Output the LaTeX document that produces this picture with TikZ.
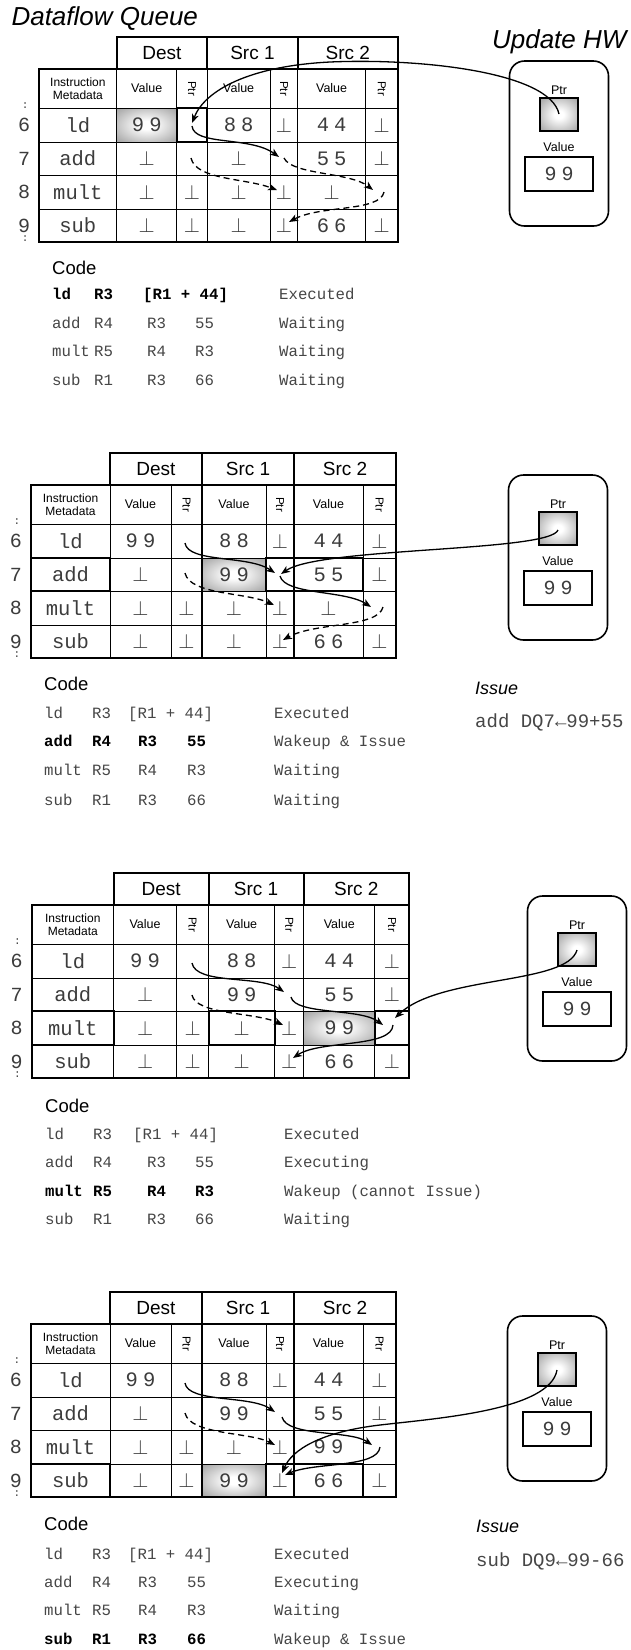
\documentclass[tikz,border=0pt]{standalone}
\usepackage{fontspec}
\setmainfont{Liberation Sans}
\newfontfamily\mono{Liberation Mono}
\newfontfamily\monosp{Liberation Mono}[LetterSpace=25]
\usetikzlibrary{arrows.meta}
\definecolor{txt}{RGB}{60,60,60}
\definecolor{codec}{RGB}{70,70,70}
\pgfdeclareradialshading{glow}{\pgfpointorigin}{color(0bp)=(white); color(6bp)=(white); color(30bp)=(black!30); color(50bp)=(black!50); color(72bp)=(black!55)}
\newcommand\bt{\fontsize{21.5}{21.5}\selectfont$\bot$}
\tikzset{
 thickline/.style={line width=2.2pt},
 midline/.style={line width=1.3pt},
 thinline/.style={line width=0.9pt},
 titlef/.style={font=\itshape\fontsize{26}{26}\selectfont},
 hdr/.style={font=\fontsize{19}{19}\selectfont},
 subhdr/.style={font=\fontsize{12.5}{12.5}\selectfont},
 metatxt/.style={font=\fontsize{12}{13.5}\selectfont, align=center},
 ptrl/.style={font=\fontsize{11.5}{11.5}\selectfont, rotate=-90},
 cellw/.style={font=\mono\fontsize{20.5}{20.5}\selectfont, text=txt},
 celld/.style={font=\monosp\fontsize{20.5}{20.5}\selectfont, text=txt},
 rowno/.style={font=\mono\fontsize{20}{20}\selectfont, text=txt},
 dots/.style={font=\mono\fontsize{11}{11}\selectfont, text=txt},
 code/.style={font=\mono\fontsize{15.7}{15.7}\selectfont, text=codec, anchor=base west, inner sep=0pt},
 codeb/.style={code, font=\mono\bfseries\fontsize{15.7}{15.7}\selectfont, text=black},
 codehd/.style={font=\fontsize{18.5}{18.5}\selectfont, anchor=base west, inner sep=0pt},
 issuehd/.style={font=\itshape\fontsize{18}{18}\selectfont, anchor=base west, inner sep=0pt},
 issuetxt/.style={font=\mono\fontsize{19}{19}\selectfont, text=codec, anchor=base west, inner sep=0pt},
 hwline/.style={line width=1.6pt, rounded corners=15pt},
 ptrbox/.style={line width=1.8pt},
 valbox/.style={draw, line width=1.5pt, minimum width=68pt, minimum height=34pt, inner sep=0pt, font=\monosp\fontsize{20}{20}\selectfont, text=txt},
 link/.style={line width=1.3pt, -{Stealth[length=9pt,width=7pt,inset=2.5pt]}},
 dlink/.style={link, dash pattern=on 6pt off 4pt},
}
% table grid, relative coordinates
\newcommand\dqgrid[1]{%
 \foreach \x in {79,140,235,332} \draw[thinline] (\x,32) -- (\x,205);
 \foreach \x in {171,263} \draw[midline] (\x,32) -- (\x,205);
 \foreach \y in {71,105,138,172} \draw[thinline] (0,\y) -- (365,\y);
 \draw[thickline] (79,0) rectangle (365,32);
 \draw[thickline] (171,0) -- (171,32);
 \draw[thickline] (263,0) -- (263,32);
 \draw[thickline] (0,32) rectangle (365,205);
 \node[hdr] (#1hd) at (125,16) {Dest};
 \node[hdr] (#1hs) at (217,16) {Src 1};
 \node[hdr] (#1ht) at (314,16) {Src 2};
 \node[metatxt] (#1sm) at (39.5,51.5) {Instruction\\Metadata};
 \node[subhdr] (#1sa) at (109.5,51.5) {Value};
 \node[ptrl] (#1sb) at (155.5,51.5) {Ptr};
 \node[subhdr] (#1sc) at (203,51.5) {Value};
 \node[ptrl] (#1sd) at (249,51.5) {Ptr};
 \node[subhdr] (#1se) at (297.5,51.5) {Value};
 \node[ptrl] (#1sf) at (348.5,51.5) {Ptr};
 \node[rowno] (#1n6) at (-15,88) {6};
 \node[rowno] (#1n7) at (-15,121.5) {7};
 \node[rowno] (#1n8) at (-15,155) {8};
 \node[rowno] (#1n9) at (-15,188.5) {9};
 \node[dots] (#1da) at (-14,69) {:};
 \node[dots] (#1db) at (-14,202) {:};
}
\newcommand\dqrow[9]{%
 \node[cellw] (#1m) at (39.5,#2) {#3};
 \node[celld] (#1a) at (109.5,#2) {#4};
 \node[celld] (#1b) at (155.5,#2) {#5};
 \node[celld] (#1c) at (203,#2) {#6};
 \node[celld] (#1d) at (249,#2) {#7};
 \node[celld] (#1e) at (297.5,#2) {#8};
 \node[celld] (#1f) at (348.5,#2) {#9};
}
\newcommand\setcols[6]{\def\cxa{#1}\def\cxb{#2}\def\cxc{#3}\def\cxd{#4}\def\cxe{#5}\def\cxl{#6}}
\newcommand\cl[8]{%
 \node[#1] (#2a) at (\cxa,#3) {#4};
 \node[#1] (#2b) at (\cxb,#3) {#5};
 \node[#1] (#2c) at (\cxc,#3) {#6};
 \node[#1] (#2d) at (\cxd,#3) {#7};
 \node[code] (#2e) at (\cxe,#3) {#8};
}
\newcommand\clld[4]{%
 \node[#1] (#2a) at (\cxa,#3) {ld};
 \node[#1] (#2b) at (\cxb,#3) {R3};
 \node[#1] (#2c) at (\cxl,#3) {[R1 + 44]};
 \node[code] (#2e) at (\cxe,#3) {#4};
}
\newcommand\hwbox[3]{%
 \draw[hwline] ({#2-49.5},#3) rectangle ({#2+49.5},{#3+165});
 \node[subhdr] (#1pl) at (#2,{#3+29}) {Ptr};
 \shade[shading=glow] ({#2-19},{#3+37}) rectangle ({#2+19},{#3+70});
 \draw[ptrbox] ({#2-19},{#3+37}) rectangle ({#2+19},{#3+70});
 \node[subhdr] (#1vl) at (#2,{#3+86}) {Value};
 \node[valbox] (#1v) at (#2,{#3+113}) {99};
}
\begin{document}
\begin{tikzpicture}[x=1pt,y=-1pt]
\useasboundingbox (0,0) rectangle (631,1650);
\fill[white] (0,0) rectangle (631,1650);

\node[titlef, anchor=west] (title) at (8,19) {Dataflow Queue};
\node[titlef, anchor=east] (hwtitle) at (630,42) {Update HW};

% ---------------- Panel 1
\begin{scope}[shift={(39,37)},xscale=0.9836]
 \shade[shading=glow] (79,71) rectangle (140,105);
 \dqgrid{p1}
 \dqrow{p1r6}{88}{ld}{99}{}{88}{\bt}{44}{\bt}
 \dqrow{p1r7}{121.5}{add}{\bt}{}{\bt}{}{55}{\bt}
 \dqrow{p1r8}{155}{mult}{\bt}{\bt}{\bt}{\bt}{\bt}{}
 \dqrow{p1r9}{188.5}{sub}{\bt}{\bt}{\bt}{\bt}{66}{\bt}
 \draw[thickline] (140,71) rectangle (171,105);
\end{scope}
\hwbox{h1}{559}{61}
\coordinate (a1s) at (559,114);
\coordinate (a1m) at (330,62);
\coordinate (a1e) at (192,123);
\draw[link] (a1s) .. controls (550,72) and (420,58) .. (a1m) .. controls (250,66) and (205,90) .. (a1e);
\coordinate (a2s) at (192,126); \coordinate (a2e) at (279,157);
\draw[link] (a2s) .. controls (194,146) and (250,136) .. (a2e);
\coordinate (a3s) at (191,158); \coordinate (a3e) at (277,190);
\draw[dlink] (a3s) .. controls (196,180) and (245,178) .. (a3e);
\coordinate (a4s) at (284,158); \coordinate (a4e) at (373,190);
\draw[dlink] (a4s) .. controls (292,175) and (350,172) .. (a4e);
\coordinate (a5s) at (384,192); \coordinate (a5e) at (289,222);
\draw[dlink] (a5s) .. controls (380,212) and (320,205) .. (a5e);

\node[codehd] (p1code) at (52,274) {Code};
\setcols{52}{94}{147}{195}{279}{143}
\clld{codeb}{p1l1}{299}{Executed}
\cl{code}{p1l2}{328}{add}{R4}{R3}{55}{Waiting}
\cl{code}{p1l3}{356.5}{mult}{R5}{R4}{R3}{Waiting}
\cl{code}{p1l4}{385}{sub}{R1}{R3}{66}{Waiting}

% ---------------- Panel 2
\begin{scope}[shift={(31,453)}]
 \shade[shading=glow] (171,105) rectangle (235,138);
 \dqgrid{p2}
 \dqrow{p2r6}{88}{ld}{99}{}{88}{\bt}{44}{\bt}
 \dqrow{p2r7}{121.5}{add}{\bt}{}{99}{}{55}{\bt}
 \dqrow{p2r8}{155}{mult}{\bt}{\bt}{\bt}{\bt}{\bt}{}
 \dqrow{p2r9}{188.5}{sub}{\bt}{\bt}{\bt}{\bt}{66}{\bt}
 \draw[thickline] (0,105) rectangle (79,138);
 \draw[thickline] (235,105) rectangle (332,138);
\end{scope}
\hwbox{h2}{558}{475}
\coordinate (b1s) at (185,543); \coordinate (b1e) at (275,573);
\draw[link] (b1s) .. controls (188,563) and (248,555) .. (b1e);
\coordinate (b2s) at (558,530); \coordinate (b2e) at (281,574);
\draw[link] (b2s) .. controls (550,552) and (320,547) .. (b2e);
\coordinate (b3s) at (280,576); \coordinate (b3e) at (371,607);
\draw[link] (b3s) .. controls (285,595) and (345,590) .. (b3e);
\coordinate (b4s) at (383,607); \coordinate (b4e) at (283,640);
\draw[dlink] (b4s) .. controls (378,628) and (315,622) .. (b4e);
\coordinate (b5s) at (185,573); \coordinate (b5e) at (274,605);
\draw[dlink] (b5s) .. controls (190,595) and (245,592) .. (b5e);

\node[codehd] (p2code) at (44,690) {Code};
\setcols{44}{92}{138}{187}{274}{128}
\clld{code}{p2l1}{718}{Executed}
\cl{codeb}{p2l2}{746.5}{add}{R4}{R3}{55}{Wakeup \& Issue}
\cl{code}{p2l3}{775.5}{mult}{R5}{R4}{R3}{Waiting}
\cl{code}{p2l4}{805}{sub}{R1}{R3}{66}{Waiting}
\node[issuehd] (p2iss) at (475,694) {Issue};
\node[issuetxt] (p2isst) at (475,727) {add DQ7←99+55};

% ---------------- Panel 3
\begin{scope}[shift={(32,873)},xscale=1.0329]
 \shade[shading=glow] (263,138) rectangle (332,172);
 \dqgrid{p3}
 \dqrow{p3r6}{88}{ld}{99}{}{88}{\bt}{44}{\bt}
 \dqrow{p3r7}{121.5}{add}{\bt}{}{99}{}{55}{\bt}
 \dqrow{p3r8}{155}{mult}{\bt}{\bt}{\bt}{\bt}{99}{}
 \dqrow{p3r9}{188.5}{sub}{\bt}{\bt}{\bt}{\bt}{66}{\bt}
 \draw[thickline] (0,138) rectangle (79,172);
 \draw[thickline] (171,138) rectangle (235,172);
 \draw[thickline] (332,138) rectangle (365,172);
\end{scope}
\hwbox{h3}{577}{896}
\coordinate (c1s) at (192,963); \coordinate (c1e) at (284,992);
\draw[link] (c1s) .. controls (196,985) and (260,975) .. (c1e);
\coordinate (c2s) at (291,997); \coordinate (c2e) at (383,1025);
\draw[link] (c2s) .. controls (295,1015) and (360,1008) .. (c2e);
\coordinate (c3s) at (577,950); \coordinate (c3e) at (395,1018);
\draw[link] (c3s) .. controls (567,985) and (440,975) .. (c3e);
\coordinate (c4s) at (393,1025); \coordinate (c4e) at (293,1058);
\draw[link] (c4s) .. controls (392,1048) and (320,1040) .. (c4e);
\coordinate (c5s) at (192,995); \coordinate (c5e) at (283,1025);
\draw[dlink] (c5s) .. controls (196,1015) and (255,1012) .. (c5e);

\node[codehd] (p3code) at (45,1112) {Code};
\setcols{45}{93}{147}{195}{284}{133}
\clld{code}{p3l1}{1139.5}{Executed}
\cl{code}{p3l2}{1167.5}{add}{R4}{R3}{55}{Executing}
\cl{codeb}{p3l3}{1196.5}{mult}{R5}{R4}{R3}{Wakeup (cannot Issue)}
\cl{code}{p3l4}{1224.5}{sub}{R1}{R3}{66}{Waiting}

% ---------------- Panel 4
\begin{scope}[shift={(31,1292)}]
 \shade[shading=glow] (171,172) rectangle (235,205);
 \dqgrid{p4}
 \dqrow{p4r6}{88}{ld}{99}{}{88}{\bt}{44}{\bt}
 \dqrow{p4r7}{121.5}{add}{\bt}{}{99}{}{55}{\bt}
 \dqrow{p4r8}{155}{mult}{\bt}{\bt}{\bt}{\bt}{99}{}
 \dqrow{p4r9}{188.5}{sub}{\bt}{\bt}{99}{\bt}{66}{\bt}
 \draw[thickline] (0,172) rectangle (79,205);
 \draw[thickline] (235,172) rectangle (332,205);
\end{scope}
\hwbox{h4}{557}{1316}
\coordinate (d1s) at (185,1383); \coordinate (d1e) at (275,1412);
\draw[link] (d1s) .. controls (188,1403) and (250,1395) .. (d1e);
\coordinate (d2s) at (282,1417); \coordinate (d2e) at (372,1445);
\draw[link] (d2s) .. controls (287,1437) and (350,1430) .. (d2e);
\coordinate (d3s) at (185,1413); \coordinate (d3e) at (275,1445);
\draw[dlink] (d3s) .. controls (190,1435) and (250,1432) .. (d3e);
\coordinate (d4s) at (380,1447); \coordinate (d4e) at (285,1475);
\draw[link] (d4s) .. controls (378,1468) and (315,1462) .. (d4e);
\coordinate (d5s) at (557,1370); \coordinate (d5m) at (380,1425); \coordinate (d5e) at (282,1473);
\draw[link] (d5s) .. controls (550,1410) and (440,1418) .. (d5m) .. controls (320,1432) and (292,1450) .. (d5e);

\node[codehd] (p4code) at (44,1530) {Code};
\setcols{44}{92}{138}{187}{274}{128}
\clld{code}{p4l1}{1559.5}{Executed}
\cl{code}{p4l2}{1587.5}{add}{R4}{R3}{55}{Executing}
\cl{code}{p4l3}{1615.5}{mult}{R5}{R4}{R3}{Waiting}
\cl{codeb}{p4l4}{1644}{sub}{R1}{R3}{66}{Wakeup \& Issue}
\node[issuehd] (p4iss) at (476,1532) {Issue};
\node[issuetxt] (p4isst) at (476,1566) {sub DQ9←99-66};
\end{tikzpicture}
\end{document}
